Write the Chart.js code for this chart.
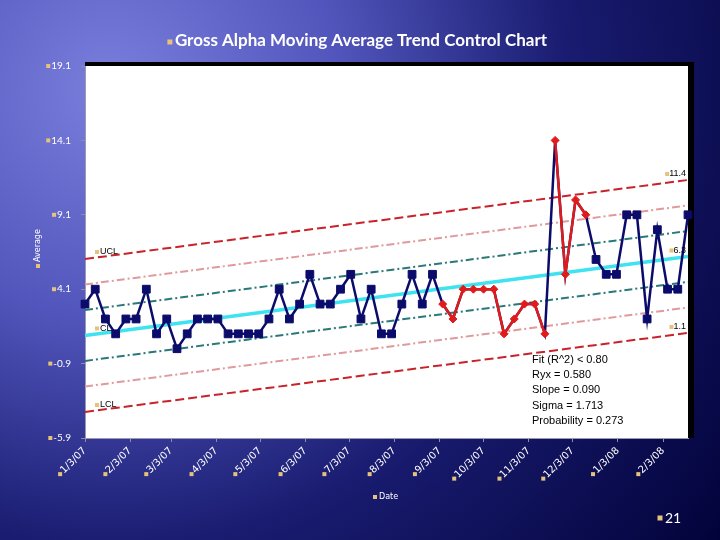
<!DOCTYPE html>
<html>
<head>
<meta charset="utf-8">
<script src="https://cdn.jsdelivr.net/npm/chart.js@4.4.0/dist/chart.umd.min.js"></script>
<style>
  html, body { margin: 0; padding: 0; background: #0a0a50; }
  #wrap { width: 720px; height: 540px; }
</style>
</head>
<body>
<div id="wrap"><canvas id="myChart" width="720" height="540"></canvas></div>
<script>
// weekly sample dates
var weeks = [
    '1/3/07', '1/10/07', '1/17/07', '1/24/07', '1/31/07',
    '2/7/07', '2/14/07', '2/21/07', '2/28/07',
    '3/7/07', '3/14/07', '3/21/07', '3/28/07',
    '4/4/07', '4/11/07', '4/18/07', '4/25/07',
    '5/2/07', '5/9/07', '5/16/07', '5/23/07', '5/30/07',
    '6/6/07', '6/13/07', '6/20/07', '6/27/07',
    '7/4/07', '7/11/07', '7/18/07', '7/25/07',
    '8/1/07', '8/8/07', '8/15/07', '8/22/07', '8/29/07',
    '9/5/07', '9/12/07', '9/19/07', '9/26/07',
    '10/3/07', '10/10/07', '10/17/07', '10/24/07', '10/31/07',
    '11/7/07', '11/14/07', '11/21/07', '11/28/07',
    '12/5/07', '12/12/07', '12/19/07', '12/26/07',
    '1/2/08', '1/9/08', '1/16/08', '1/23/08', '1/30/08',
    '2/6/08', '2/13/08', '2/20/08'
];
var alpha = [
    3.1, 4.1, 2.1, 1.1, 2.1, 2.1, 4.1, 1.1, 2.1, 0.1,
    1.1, 2.1, 2.1, 2.1, 1.1, 1.1, 1.1, 1.1, 2.1, 4.1,
    2.1, 3.1, 5.1, 3.1, 3.1, 4.1, 5.1, 2.1, 4.1, 1.1,
    1.1, 3.1, 5.1, 3.1, 5.1, 3.1, 2.1, 4.1, 4.1, 4.1,
    4.1, 1.1, 2.1, 3.1, 3.1, 1.1, 14.1, 5.1, 10.1, 9.1,
    6.1, 5.1, 5.1, 9.1, 9.1, 2.1, 8.1, 4.1, 4.1, 9.1
];
// flagged runs (first and last index) drawn in red
var redRuns = [[35, 45], [46, 49]];

var monthTicks = ['1/3/07', '2/3/07', '3/3/07', '4/3/07', '5/3/07', '6/3/07', '7/3/07',
    '8/3/07', '9/3/07', '10/3/07', '11/3/07', '12/3/07', '1/3/08', '2/3/08'];
var yTicks = [-5.9, -0.9, 4.1, 9.1, 14.1, 19.1];

// control lines: value at first week, value at last week
var ucl = [6.13, 11.44];
var up2 = [4.42, 9.73];
var up1 = [2.70, 8.01];
var cl = [0.99, 6.30];
var lo1 = [-0.72, 4.59];
var lo2 = [-2.44, 2.87];
var lcl = [-4.15, 1.16];
var startLabels = ['UCL', 'CL', 'LCL'];
var endLabels = ['11.4', '6.3', '1.1'];
var fitText = ['Fit (R^2) < 0.80', 'Ryx = 0.580', 'Slope = 0.090', 'Sigma = 1.713', 'Probability = 0.273'];

var BULLET = '#e6c27a';

function day(s) {
    var p = s.split('/');
    return (Date.UTC(2000 + +p[2], p[0] - 1, +p[1]) - Date.UTC(2007, 0, 3)) / 86400000;
}

var points = weeks.map(function (w, i) { return { x: day(w), y: alpha[i] }; });
var x0 = day(weeks[0]), x1 = day(weeks[weeks.length - 1]);

function isRed(i) {
    return redRuns.some(function (r) { return i >= r[0] && i <= r[1]; });
}

function ctrl(vals, color, dash, width) {
    return {
        data: [{ x: x0, y: vals[0] }, { x: x1, y: vals[1] }],
        borderColor: color, borderDash: dash, borderWidth: width,
        pointRadius: 0, order: 2, clip: false
    };
}

var datasets = [];
redRuns.forEach(function (r) {
    datasets.push({
        data: points.slice(r[0], r[1] + 1),
        borderColor: '#e01b1b', backgroundColor: '#e01b1b', borderWidth: 2.5,
        pointStyle: 'rectRot', pointRadius: 4, pointBorderWidth: 1, order: 0, clip: false
    });
});
datasets.push({
    data: points,
    borderColor: '#0b0b6b', backgroundColor: '#0b0b6b', borderWidth: 2.5,
    pointStyle: 'rect', pointBorderWidth: 1, order: 1, clip: false,
    pointRadius: function (c) { return isRed(c.dataIndex) ? 0 : 5.5; }
});
var dashA = [9, 4], dashB = [8, 3, 2, 3];
datasets.push(ctrl(ucl, '#c8222a', dashA, 2));
datasets.push(ctrl(up2, '#e09a9c', dashB, 2));
datasets.push(ctrl(up1, '#2a7878', dashB, 2));
datasets.push(ctrl(cl, '#3fe3f0', [], 3.5));
datasets.push(ctrl(lo1, '#2a7878', dashB, 2));
datasets.push(ctrl(lo2, '#e09a9c', dashB, 2));
datasets.push(ctrl(lcl, '#c8222a', dashA, 2));

function bullet(ctx, x, y, s) {
    ctx.fillStyle = BULLET;
    ctx.fillRect(x - s / 2, y - s / 2, s, s);
}

var slidePlugin = {
    id: 'slide',
    beforeDraw: function (chart) {
        var ctx = chart.ctx, a = chart.chartArea;
        ctx.save();
        var g = ctx.createRadialGradient(110, 90, 0, 110, 90, 760);
        g.addColorStop(0, '#7a7edc');
        g.addColorStop(0.3, '#5256bc');
        g.addColorStop(0.6, '#191c70');
        g.addColorStop(1, '#02023a');
        ctx.fillStyle = g;
        ctx.fillRect(0, 0, chart.width, chart.height);
        ctx.fillStyle = '#ffffff';
        ctx.fillRect(a.left, a.top, a.right - a.left, a.bottom - a.top);
        ctx.fillStyle = '#000000';
        ctx.fillRect(a.left, a.top - 4, a.right - a.left + 6, 4);
        ctx.fillRect(a.right, a.top - 4, 6, a.bottom - a.top + 4);
        ctx.restore();
    },
    afterDraw: function (chart) {
        var ctx = chart.ctx, a = chart.chartArea;
        var xs = chart.scales.x, ys = chart.scales.y;
        ctx.save();
        // title
        ctx.font = 'bold 17px Lato';
        ctx.fillStyle = '#ffffff';
        ctx.textAlign = 'center';
        ctx.textBaseline = 'middle';
        var title = 'Gross Alpha Moving Average Trend Control Chart';
        ctx.fillText(title, 361, 41);
        bullet(ctx, 361 - ctx.measureText(title).width / 2 - 5, 42, 5);

        // bullets before tick labels
        [xs, ys].forEach(function (s) {
            s.getLabelItems().forEach(function (it) {
                ctx.font = it.font.string;
                var w = ctx.measureText(it.label).width;
                var o = it.options, r = o.rotation || 0;
                var lx = -w - 3, ly = it.textOffset || 0;
                if (o.textBaseline === 'top') ly += it.font.size / 2;
                if (o.textBaseline === 'bottom') ly -= it.font.size / 2;
                var gx = o.translation[0] + lx * Math.cos(r) - ly * Math.sin(r);
                var gy = o.translation[1] + lx * Math.sin(r) + ly * Math.cos(r);
                bullet(ctx, gx, gy, 4);
            });
        });

        // axis titles
        ctx.fillStyle = '#ffffff';
        ctx.font = '8px "DejaVu Sans"';
        ctx.textAlign = 'left';
        ctx.fillText('Date', 379, 497);
        bullet(ctx, 375, 497, 4);
        ctx.translate(38, 262);
        ctx.rotate(-Math.PI / 2);
        ctx.fillStyle = '#ffffff';
        ctx.fillText('Average', 0, 0);
        bullet(ctx, -4, 0, 4);
        ctx.setTransform(1, 0, 0, 1, 0, 0);

        // slide number
        ctx.fillStyle = '#ffffff';
        ctx.font = '14px Lato';
        ctx.fillText('21', 665, 518);
        bullet(ctx, 660, 518, 5);

        // control line labels
        ctx.font = '9px "Liberation Sans"';
        [ucl, cl, lcl].forEach(function (v, i) {
            var y0 = ys.getPixelForValue(v[0]) - 7;
            var y1 = ys.getPixelForValue(v[1]) - 6;
            ctx.textAlign = 'left';
            ctx.fillStyle = '#000000';
            ctx.fillText(startLabels[i], a.left + 15, y0);
            bullet(ctx, a.left + 12, y0, 4);
            ctx.textAlign = 'right';
            ctx.fillStyle = '#000000';
            ctx.fillText(endLabels[i], a.right - 2, y1);
            bullet(ctx, a.right - 4 - ctx.measureText(endLabels[i]).width, y1, 4);
        });

        // fit statistics
        ctx.font = '11px "Liberation Sans"';
        ctx.textAlign = 'left';
        ctx.fillStyle = '#000000';
        fitText.forEach(function (t, i) {
            ctx.fillText(t, 532, 360 + i * 15.2);
        });
        ctx.restore();
    }
};

new Chart(document.getElementById('myChart'), {
    type: 'line',
    data: { datasets: datasets },
    options: {
        responsive: false,
        animation: false,
        devicePixelRatio: 1,
        layout: { padding: { top: 66, right: 32, left: 0, bottom: 0 } },
        plugins: { legend: { display: false }, tooltip: { enabled: false } },
        scales: {
            x: {
                type: 'linear', min: x0, max: x1,
                afterBuildTicks: function (s) { s.ticks = monthTicks.map(function (t) { return { value: day(t) }; }); },
                afterFit: function (s) { s.height = 102; },
                ticks: {
                    autoSkip: false, minRotation: 45, maxRotation: 45, padding: 3,
                    color: '#ffffff', font: { family: 'DejaVu Sans', size: 10 },
                    callback: function (v, i) { return monthTicks[i]; }
                },
                grid: { drawOnChartArea: false, tickLength: 4, color: '#8c8ca8' },
                border: { color: '#9a9ab4', width: 1 }
            },
            y: {
                min: -5.9, max: 19.1,
                afterBuildTicks: function (s) { s.ticks = yTicks.map(function (v) { return { value: v }; }); },
                afterFit: function (s) { s.width = 85; },
                ticks: {
                    padding: 10, color: '#ffffff', font: { family: 'Lato', size: 10 },
                    callback: function (v) { return v.toFixed(1); }
                },
                grid: { drawOnChartArea: false, tickLength: 4, color: '#8c8ca8' },
                border: { color: '#9a9ab4', width: 1 }
            }
        }
    },
    plugins: [slidePlugin]
});
</script>
</body>
</html>
